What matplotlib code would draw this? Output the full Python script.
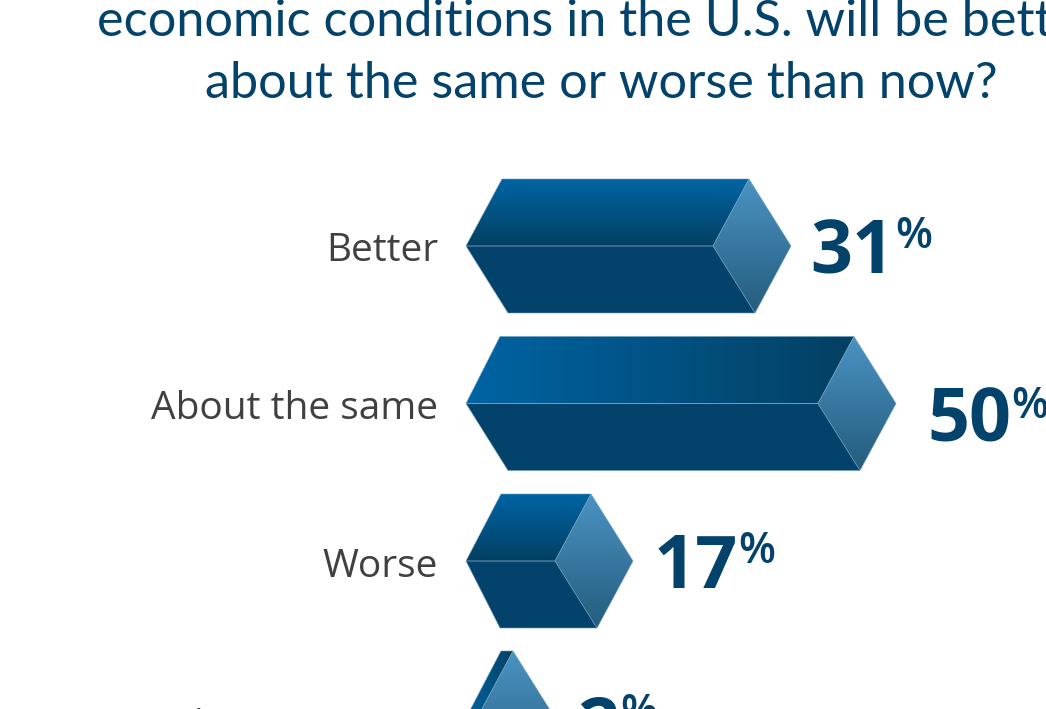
import numpy as np
import matplotlib
matplotlib.use('Agg')
import matplotlib.pyplot as plt
from matplotlib.colors import LinearSegmentedColormap
from matplotlib.patches import Polygon

categories = ['Better', 'About the same', 'Worse', "Don't know/Unsure"]
values = [31, 50, 17, 2]

# bar length is not proportional in this graphic, so the x scale is piecewise
scale_values = [0, 2, 17, 31, 50]
scale_lengths = [0, 11, 89, 247, 352]

NAVY = '#03426a'
GREY = '#404040'
FONT = 'Open Sans'

W, H = 1046, 709
fig = plt.figure(figsize=(W / 100, H / 100), dpi=100, facecolor='white')

# axes in pixels, top-left origin
ax = fig.add_axes([0, 0, 1, 1])
ax.set_xlim(0, W)
ax.set_ylim(H, 0)
ax.axis('off')

# value axis only used to turn a percentage into a bar length
scale_ax = fig.add_axes([466 / W, 0, 352 / W, 0.01])
scale_ax.set_xscale('function', functions=(
    lambda v: np.interp(v, scale_values, scale_lengths),
    lambda p: np.interp(p, scale_lengths, scale_values)))
scale_ax.set_xlim(0, 50)
scale_ax.axis('off')

top_cmap = LinearSegmentedColormap.from_list('top', ['#0064a4', '#034062'])
end_cmap = LinearSegmentedColormap.from_list('end', ['#4b93c4', '#245c7c'])


def gradient_face(points, cmap, horizontal=False):
    pts = np.array(points)
    grad = np.linspace(0, 1, 256)
    grad = grad.reshape(1, -1) if horizontal else grad.reshape(-1, 1)
    extent = [pts[:, 0].min(), pts[:, 0].max(), pts[:, 1].max(), pts[:, 1].min()]
    im = ax.imshow(grad, cmap=cmap, extent=extent, aspect='auto', zorder=2)
    clip = Polygon(pts, closed=True, transform=ax.transData)
    im.set_clip_path(clip)
    ax.add_patch(Polygon(pts, closed=True, fill=False, ec='#6f9dbb', lw=0.4, zorder=3))


def draw_bar(value, mid, row):
    length = scale_ax.transData.transform((value, 0))[0] - 466
    edge = 466 + length
    up = mid - 67
    down = mid + 67
    tl, bl = row
    top = [(466, mid), (466 + tl, up), (edge + 36, up), (edge, mid)]
    front = [(466, mid), (466 + bl, down), (edge + 42, down), (edge, mid)]
    end = [(edge, mid), (edge + 36, up), (edge + 78, mid), (edge + 42, down)]
    gradient_face(top, top_cmap, horizontal=value in (50, 2))
    ax.add_patch(Polygon(front, closed=True, fc=NAVY, ec='#6f9dbb', lw=0.4, zorder=2))
    gradient_face(end, end_cmap)


title_kw = dict(color=NAVY, fontsize=36.3, family='Lato')
ax.text(97, 35, 'economic conditions in the U.S. will be better,', ha='left', va='baseline', **title_kw)
ax.text(601, 98, 'about the same or worse than now?', ha='center', va='baseline', **title_kw)

mids = [246, 403.5, 561, 718]
insets = [(36, 42), (34, 42), (35, 34), (35, 34)]
label_base = [261, 419, 577, 737]
number_x = [810, 927, 654, 577]
number_base = [273, 441, 588, 750]
percent_x = [895, 1011, 738, 620]
percent_base = [248, 418, 563, 725]

for i, (name, val) in enumerate(zip(categories, values)):
    draw_bar(val, mids[i], insets[i])
    ax.text(438, label_base[i], name, ha='right', va='baseline', color=GREY, fontsize=28, family=FONT)
    ax.text(number_x[i], number_base[i], str(val), ha='left', va='baseline', color=NAVY,
            fontsize=53, fontweight='bold', family=FONT)
    ax.text(percent_x[i], percent_base[i], '%', ha='left', va='baseline', color=NAVY,
            fontsize=31, fontweight='semibold', family=FONT)

ax.set_xlim(0, W)
ax.set_ylim(H, 0)
fig.savefig('out.png', dpi=100)
